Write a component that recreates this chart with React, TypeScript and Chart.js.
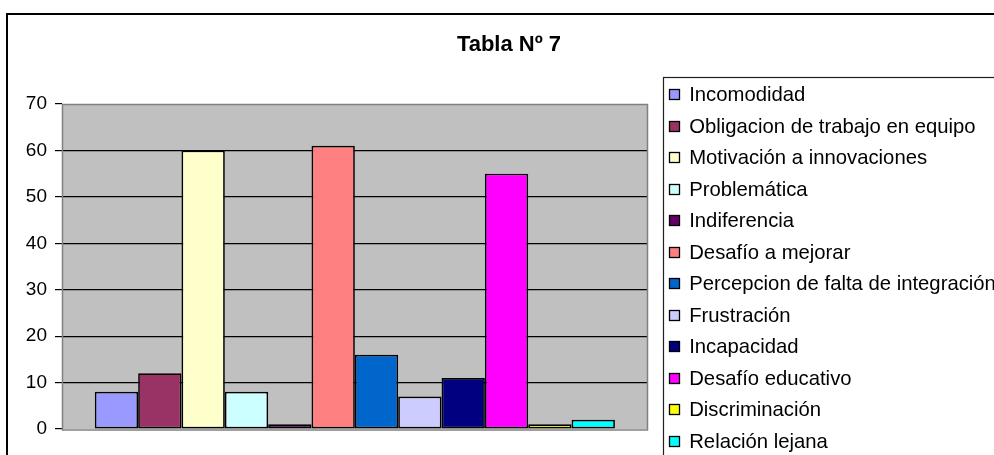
import React, { useEffect, useRef } from 'react';
import { Chart, registerables } from 'chart.js';

Chart.register(...registerables);

// ---- data ----
const categories = [''];
const chartTitle = 'Tabla Nº 7';
const seriesNames = [
  'Incomodidad',
  'Obligacion de trabajo en equipo',
  'Motivación a innovaciones',
  'Problemática',
  'Indiferencia',
  'Desafío a mejorar',
  'Percepcion de falta de integración',
  'Frustración',
  'Incapacidad',
  'Desafío educativo',
  'Discriminación',
  'Relación lejana',
];
const seriesValues = [8, 12, 60, 8, 1, 61, 16, 7, 11, 55, 1, 2];
const seriesColors = [
  '#9999FF',
  '#993366',
  '#FFFFCC',
  '#CCFFFF',
  '#660066',
  '#FF8080',
  '#0066CC',
  '#CCCCFF',
  '#000080',
  '#FF00FF',
  '#FFFF00',
  '#00FFFF',
];
const yMin = 0;
const yMax = 70;
const yStep = 10;

// ---- layout constants ----
const W = 1018;
const H = 470;
const FONT = 'Arial, "Liberation Sans", sans-serif';

export default function App() {
  const ref = useRef<HTMLCanvasElement>(null);

  useEffect(() => {
    const canvas = ref.current;
    if (!canvas) return;

    const plotBg = {
      id: 'plotBg',
      beforeDraw(chart: any) {
        const { ctx, chartArea: a } = chart;
        ctx.save();
        ctx.fillStyle = '#FFFFFF';
        ctx.fillRect(0, 0, chart.width, chart.height);
        ctx.fillStyle = '#C0C0C0';
        ctx.fillRect(a.left, a.top, a.right - a.left, a.bottom - a.top);
        ctx.restore();
      },
      beforeDatasetsDraw(chart: any) {
        const { ctx, chartArea: a } = chart;
        ctx.save();
        ctx.strokeStyle = '#808080';
        ctx.lineWidth = 1.5;
        ctx.strokeRect(Math.round(a.left) + 0.5, Math.round(a.top) + 0.5, Math.round(a.right - a.left) - 1, Math.round(a.bottom - a.top) + 0.5);
        ctx.restore();
      },
    };

    const legendAndFrame = {
      id: 'legendAndFrame',
      afterDraw(chart: any) {
        const { ctx, chartArea: a } = chart;
        ctx.save();
        // outer chart border
        ctx.strokeStyle = '#000000';
        ctx.lineWidth = 2;
        ctx.strokeRect(7, 14, chart.width + 20, chart.height + 20);
        // legend box
        const lx = Math.round(a.right + 15) + 0.5;
        const ly = Math.round(a.top - 27) + 0.5;
        ctx.lineWidth = 1.2;
        ctx.strokeStyle = '#202020';
        ctx.strokeRect(lx, ly, chart.width + 20, chart.height + 20);
        ctx.font = `20.3px ${FONT}`;
        ctx.textBaseline = 'alphabetic';
        ctx.textAlign = 'left';
        chart.data.datasets.forEach((ds: any, i: number) => {
          const sx = Math.round(a.right + 21);
          const sy = Math.round(a.top - 15 + 31.5 * i);
          ctx.fillStyle = ds.backgroundColor;
          ctx.fillRect(sx, sy, 11, 11);
          ctx.strokeStyle = '#000000';
          ctx.lineWidth = 1.3;
          ctx.strokeRect(sx + 0.5, sy + 0.5, 10, 10);
          ctx.fillStyle = '#000000';
          ctx.fillText(ds.label, a.right + 41.5, a.top - 2.7 + 31.5 * i);
        });
        ctx.restore();
      },
    };

    const chart = new Chart(canvas, {
      type: 'bar',
      data: {
        labels: categories,
        datasets: seriesNames.map((name, i) => ({
          label: name,
          data: [seriesValues[i]],
          backgroundColor: seriesColors[i],
          borderColor: '#000000',
          borderWidth: 1.7,
          borderSkipped: false,
          categoryPercentage: 0.888,
          barPercentage: 1,
          yAxisID: 'y',
        })),
      },
      options: {
        responsive: false,
        animation: false,
        events: [],
        layout: { padding: { left: 0, right: 0, top: 0, bottom: 41 } },
        plugins: {
          legend: { display: false },
          tooltip: { enabled: false },
          title: {
            display: true,
            text: chartTitle,
            color: '#000000',
            font: { family: FONT, size: 22, weight: 'bold' },
            padding: { top: 32, bottom: 45.6 },
          },
        },
        scales: {
          x: {
            type: 'category',
            display: false,
            grid: { display: false },
          },
          y: {
            type: 'linear',
            position: 'left',
            min: yMin,
            max: yMax,
            ticks: {
              stepSize: yStep,
              color: '#000000',
              font: { family: FONT, size: 19 },
              padding: 8,
            },
            grid: {
              color: (c: any) =>
                c.tick && (c.tick.value === yMin || c.tick.value === yMax) ? 'rgba(0,0,0,0)' : '#000000',
              tickColor: '#000000',
              tickLength: 7,
              lineWidth: 1.2,
            },
            border: { display: false },
            afterFit: (s: any) => {
              s.width = 62;
            },
          },
          y2: {
            type: 'linear',
            position: 'right',
            display: true,
            ticks: { display: false },
            grid: { display: false, drawTicks: false },
            border: { display: false },
            afterFit: (s: any) => {
              s.width = W - 647.7;
            },
          },
        },
      },
      plugins: [plotBg, legendAndFrame],
    } as any);

    return () => chart.destroy();
  }, []);

  return (
    <div
      style={{
        position: 'absolute',
        left: 0,
        top: 0,
        width: 994,
        height: 455,
        overflow: 'hidden',
        background: '#FFFFFF',
      }}
    >
      <canvas ref={ref} width={W} height={H} style={{ width: W, height: H, display: 'block' }} />
    </div>
  );
}
